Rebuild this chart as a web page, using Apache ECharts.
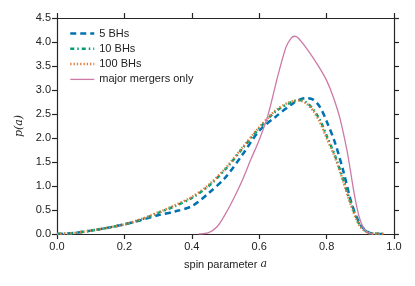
<!DOCTYPE html>
<html><head><meta charset="utf-8">
<script src="https://cdn.jsdelivr.net/npm/echarts@6/dist/echarts.min.js"></script>
<style>html,body{margin:0;padding:0;background:#fff}#c{width:415px;height:286px}</style>
</head><body><div id="c"></div>
<script>
const seriesNames = ['5 BHs', '10 BHs', '100 BHs', 'major mergers only'];
const xTicks = [0.0, 0.2, 0.4, 0.6, 0.8, 1.0];
const yTicks = [0.0, 0.5, 1.0, 1.5, 2.0, 2.5, 3.0, 3.5, 4.0, 4.5];

const a5 =   [0, 0.05, 0.1, 0.15, 0.2, 0.25, 0.3, 0.35, 0.4, 0.45, 0.5, 0.55, 0.6, 0.65, 0.7, 0.72, 0.74, 0.76, 0.78, 0.8, 0.825, 0.85, 0.875, 0.9, 0.925, 0.95, 0.97];
const p5 =   [0, 0.02, 0.07, 0.13, 0.2, 0.29, 0.39, 0.47, 0.58, 0.85, 1.18, 1.65, 2.15, 2.45, 2.72, 2.8, 2.83, 2.8, 2.65, 2.35, 1.9, 1.3, 0.62, 0.2, 0.03, 0.005, 0];

const a10 =  [0, 0.05, 0.1, 0.15, 0.2, 0.25, 0.3, 0.35, 0.4, 0.45, 0.5, 0.55, 0.6, 0.65, 0.7, 0.72, 0.74, 0.76, 0.78, 0.8, 0.825, 0.85, 0.875, 0.9, 0.925, 0.95, 0.97];
const p10 =  [0, 0.02, 0.07, 0.13, 0.2, 0.3, 0.44, 0.58, 0.75, 1.0, 1.35, 1.78, 2.2, 2.56, 2.76, 2.79, 2.74, 2.6, 2.38, 2.05, 1.63, 1.12, 0.58, 0.17, 0.03, 0.005, 0];

const a100 = [0, 0.05, 0.1, 0.15, 0.2, 0.25, 0.3, 0.35, 0.4, 0.45, 0.5, 0.55, 0.6, 0.65, 0.7, 0.72, 0.74, 0.76, 0.78, 0.8, 0.825, 0.85, 0.875, 0.9, 0.925, 0.95, 0.97];
const p100 = [0, 0.02, 0.07, 0.13, 0.2, 0.31, 0.45, 0.6, 0.77, 1.02, 1.37, 1.8, 2.22, 2.58, 2.77, 2.78, 2.72, 2.57, 2.33, 2.0, 1.6, 1.08, 0.55, 0.15, 0.02, 0.005, 0];

const aMaj = [0.42, 0.45, 0.475, 0.5, 0.525, 0.55, 0.575, 0.6, 0.625, 0.65, 0.66, 0.68, 0.695, 0.705, 0.715, 0.735, 0.76, 0.78, 0.8, 0.82, 0.84, 0.86, 0.87, 0.88, 0.89, 0.9, 0.91, 0.92, 0.93, 0.94];
const pMaj = [0, 0.03, 0.15, 0.42, 0.75, 1.12, 1.55, 1.96, 2.45, 3.15, 3.42, 3.9, 4.08, 4.12, 4.09, 3.92, 3.67, 3.45, 3.2, 2.85, 2.4, 1.76, 1.35, 0.92, 0.55, 0.28, 0.12, 0.04, 0.01, 0];

function pairs(xs, ys) { return xs.map((x, i) => [x, ys[i]]); }

const axisColor = '#262626';
const font = 'Liberation Sans, Arial, sans-serif';
const styles = [
  {color: '#0072b2', width: 2.5, type: [6, 4]},
  {color: '#009e73', width: 2.5, type: [4, 3, 1.5, 3]},
  {color: '#e07b39', width: 2.5, type: [1.3, 2]},
  {color: '#cc79a7', width: 1.3, type: 'solid'}
];

const chart = echarts.init(document.getElementById('c'), null, {renderer: 'canvas'});
const baseX = {
  type: 'value', min: 0, max: 1, interval: 0.2,
  axisLine: {show: true, onZero: false, lineStyle: {color: axisColor, width: 1.2}},
  axisTick: {show: true, inside: false, length: 5, lineStyle: {color: axisColor, width: 1.2}},
  splitLine: {show: false}
};
const baseY = {
  type: 'value', min: 0, max: 4.5, interval: 0.5,
  axisLine: {show: true, onZero: false, lineStyle: {color: axisColor, width: 1.2}},
  axisTick: {show: true, inside: false, length: 5, lineStyle: {color: axisColor, width: 1.2}},
  splitLine: {show: false}
};
chart.setOption({
  animation: false,
  backgroundColor: '#fff',
  grid: {left: 57, right: 21, top: 18, bottom: 52},
  legend: {
    orient: 'vertical', left: 64, top: 23, itemWidth: 24, itemHeight: 10, itemGap: 4.3,
    itemStyle: {opacity: 0},
    textStyle: {fontFamily: font, fontSize: 11, color: '#222', padding: [0, 0, 0, 0]},
    data: seriesNames.map((n, i) => ({name: n, lineStyle: Object.assign({}, styles[i])}))
  },
  xAxis: [
    Object.assign({}, baseX, {
      position: 'bottom',
      axisLabel: {show: true, fontFamily: font, fontSize: 11, color: '#222', margin: 7,
        formatter: v => xTicks.includes(+v.toFixed(1)) ? v.toFixed(1) : ''},
      name: '{t|spin parameter }{i|a}', nameLocation: 'middle', nameGap: 25,
      nameTextStyle: {rich: {
        t: {fontFamily: font, fontSize: 11, color: '#222'},
        i: {fontFamily: 'DejaVu Serif', fontStyle: 'italic', fontSize: 11, color: '#222'}
      }}
    }),
    Object.assign({}, baseX, {position: 'top', axisLabel: {show: false}})
  ],
  yAxis: [
    Object.assign({}, baseY, {
      position: 'left',
      axisLabel: {show: true, fontFamily: font, fontSize: 11, color: '#222', margin: 6,
        formatter: v => yTicks.includes(+v.toFixed(1)) ? v.toFixed(1) : ''},
      name: 'p(a)', nameLocation: 'middle', nameGap: 30, nameRotate: 90,
      nameTextStyle: {fontFamily: 'DejaVu Serif', fontStyle: 'italic', fontSize: 11, color: '#222'}
    }),
    Object.assign({}, baseY, {position: 'right', axisLabel: {show: false}})
  ],
  series: [
    {name: seriesNames[0], type: 'line', showSymbol: false, symbol: 'none', smooth: 0.3,
      data: pairs(a5, p5), color: styles[0].color, lineStyle: styles[0]},
    {name: seriesNames[1], type: 'line', showSymbol: false, symbol: 'none', smooth: 0.3,
      data: pairs(a10, p10), color: styles[1].color, lineStyle: styles[1]},
    {name: seriesNames[2], type: 'line', showSymbol: false, symbol: 'none', smooth: 0.3,
      data: pairs(a100, p100), color: styles[2].color, lineStyle: styles[2]},
    {name: seriesNames[3], type: 'line', showSymbol: false, symbol: 'none', smooth: 0.3,
      data: pairs(aMaj, pMaj), color: styles[3].color, lineStyle: styles[3]}
  ]
});
</script></body></html>
